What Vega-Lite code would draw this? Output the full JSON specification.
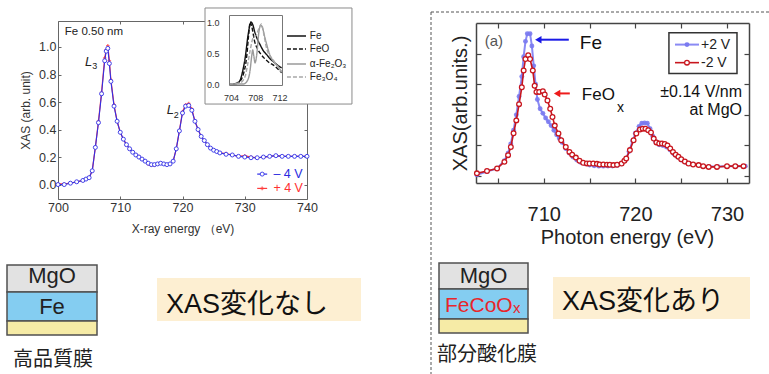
{
"$schema": "https://vega.github.io/schema/vega-lite/v6.json",
"width": 769, "height": 374,
"autosize": {"type": "none"},
"padding": 0,
"background": "white",
"config": {
  "view": {"stroke": null},
  "font": "Liberation Sans",
  "axis": {"grid": false, "labelFont": "Liberation Sans", "titleFont": "Liberation Sans", "titleFontWeight": "normal"}
},
"datasets": {
  "lneg": [{"E":700,"I":0.0},{"E":701,"I":0.0},{"E":702,"I":0.01},{"E":703,"I":0.02},{"E":704,"I":0.03},{"E":704.5,"I":0.04},{"E":705,"I":0.05},{"E":705.5,"I":0.1},{"E":706,"I":0.27},{"E":706.5,"I":0.45},{"E":707,"I":0.66},{"E":707.5,"I":0.9},{"E":707.75,"I":0.97},{"E":708,"I":0.99},{"E":708.25,"I":0.88},{"E":708.5,"I":0.75},{"E":709,"I":0.57},{"E":709.5,"I":0.46},{"E":710,"I":0.38},{"E":710.5,"I":0.33},{"E":711,"I":0.29},{"E":711.5,"I":0.26},{"E":712,"I":0.235},{"E":712.5,"I":0.215},{"E":713,"I":0.2},{"E":713.5,"I":0.185},{"E":714,"I":0.17},{"E":714.5,"I":0.155},{"E":715,"I":0.145},{"E":715.5,"I":0.145},{"E":716,"I":0.15},{"E":716.5,"I":0.155},{"E":717,"I":0.15},{"E":717.5,"I":0.145},{"E":718,"I":0.15},{"E":718.5,"I":0.17},{"E":719,"I":0.26},{"E":719.5,"I":0.39},{"E":720,"I":0.52},{"E":720.5,"I":0.57},{"E":721,"I":0.575},{"E":721.5,"I":0.54},{"E":722,"I":0.46},{"E":722.5,"I":0.4},{"E":723,"I":0.35},{"E":723.5,"I":0.32},{"E":724,"I":0.29},{"E":724.5,"I":0.265},{"E":725,"I":0.25},{"E":725.5,"I":0.24},{"E":726,"I":0.23},{"E":727,"I":0.22},{"E":728,"I":0.215},{"E":729,"I":0.205},{"E":730,"I":0.2},{"E":731,"I":0.195},{"E":732,"I":0.195},{"E":733,"I":0.2},{"E":734,"I":0.205},{"E":735,"I":0.21},{"E":736,"I":0.205},{"E":737,"I":0.205},{"E":738,"I":0.205},{"E":739,"I":0.205},{"E":740,"I":0.205}],
  "lpos": [{"E":700,"I":0.005},{"E":701,"I":0.005},{"E":702,"I":0.01},{"E":703,"I":0.02},{"E":704,"I":0.03},{"E":704.5,"I":0.04},{"E":705,"I":0.05},{"E":705.5,"I":0.1},{"E":706,"I":0.27},{"E":706.5,"I":0.46},{"E":707,"I":0.67},{"E":707.5,"I":0.92},{"E":707.75,"I":0.98},{"E":708,"I":1.01},{"E":708.25,"I":0.9},{"E":708.5,"I":0.76},{"E":709,"I":0.58},{"E":709.5,"I":0.46},{"E":710,"I":0.38},{"E":710.5,"I":0.33},{"E":711,"I":0.29},{"E":711.5,"I":0.26},{"E":712,"I":0.235},{"E":712.5,"I":0.215},{"E":713,"I":0.205},{"E":713.5,"I":0.185},{"E":714,"I":0.17},{"E":714.5,"I":0.15},{"E":715,"I":0.14},{"E":715.5,"I":0.14},{"E":716,"I":0.15},{"E":716.5,"I":0.155},{"E":717,"I":0.15},{"E":717.5,"I":0.145},{"E":718,"I":0.15},{"E":718.5,"I":0.17},{"E":719,"I":0.26},{"E":719.5,"I":0.39},{"E":720,"I":0.53},{"E":720.5,"I":0.58},{"E":721,"I":0.59},{"E":721.5,"I":0.55},{"E":722,"I":0.46},{"E":722.5,"I":0.4},{"E":723,"I":0.35},{"E":723.5,"I":0.32},{"E":724,"I":0.29},{"E":724.5,"I":0.265},{"E":725,"I":0.25},{"E":725.5,"I":0.24},{"E":726,"I":0.23},{"E":727,"I":0.225},{"E":728,"I":0.215},{"E":729,"I":0.205},{"E":730,"I":0.21},{"E":731,"I":0.2},{"E":732,"I":0.195},{"E":733,"I":0.2},{"E":734,"I":0.205},{"E":735,"I":0.21},{"E":736,"I":0.205},{"E":737,"I":0.205},{"E":738,"I":0.205},{"E":739,"I":0.205},{"E":740,"I":0.205}],
  "rneg": [{"E":702.7,"I":0.018},{"E":703.8,"I":0.033},{"E":704.9,"I":0.05},{"E":705.7,"I":0.093},{"E":706.1,"I":0.137},{"E":706.4,"I":0.19},{"E":706.7,"I":0.28},{"E":707.0,"I":0.364},{"E":707.3,"I":0.47},{"E":707.6,"I":0.58},{"E":707.8,"I":0.69},{"E":708.0,"I":0.765},{"E":708.3,"I":0.79},{"E":708.5,"I":0.765},{"E":708.8,"I":0.69},{"E":709.0,"I":0.59},{"E":709.2,"I":0.55},{"E":709.5,"I":0.55},{"E":709.9,"I":0.555},{"E":710.1,"I":0.533},{"E":710.4,"I":0.494},{"E":710.7,"I":0.44},{"E":710.95,"I":0.386},{"E":711.2,"I":0.33},{"E":711.6,"I":0.278},{"E":711.9,"I":0.234},{"E":712.4,"I":0.19},{"E":712.8,"I":0.158},{"E":713.1,"I":0.14},{"E":713.5,"I":0.121},{"E":713.9,"I":0.1},{"E":714.3,"I":0.087},{"E":714.7,"I":0.083},{"E":715.0,"I":0.082},{"E":715.4,"I":0.082},{"E":715.8,"I":0.08},{"E":716.1,"I":0.076},{"E":716.5,"I":0.076},{"E":716.9,"I":0.075},{"E":717.2,"I":0.074},{"E":717.6,"I":0.072},{"E":718.0,"I":0.074},{"E":718.5,"I":0.082},{"E":718.8,"I":0.1},{"E":719.0,"I":0.115},{"E":719.4,"I":0.17},{"E":719.8,"I":0.234},{"E":720.1,"I":0.278},{"E":720.5,"I":0.304},{"E":720.8,"I":0.31},{"E":721.1,"I":0.31},{"E":721.4,"I":0.3},{"E":721.7,"I":0.285},{"E":722.0,"I":0.245},{"E":722.3,"I":0.22},{"E":722.6,"I":0.213},{"E":722.9,"I":0.213},{"E":723.2,"I":0.21},{"E":723.5,"I":0.2},{"E":723.8,"I":0.18},{"E":724.1,"I":0.158},{"E":724.4,"I":0.14},{"E":724.7,"I":0.126},{"E":725.0,"I":0.11},{"E":725.4,"I":0.095},{"E":725.8,"I":0.082},{"E":726.3,"I":0.076},{"E":726.9,"I":0.072},{"E":727.4,"I":0.065},{"E":728.0,"I":0.06},{"E":728.9,"I":0.06},{"E":730.0,"I":0.065},{"E":730.9,"I":0.065},{"E":731.8,"I":0.065}],
  "rpos": [{"E":702.7,"I":0.008},{"E":703.8,"I":0.03},{"E":704.9,"I":0.05},{"E":705.7,"I":0.1},{"E":706.1,"I":0.15},{"E":706.4,"I":0.21},{"E":706.7,"I":0.3},{"E":707.0,"I":0.4},{"E":707.3,"I":0.52},{"E":707.6,"I":0.65},{"E":707.8,"I":0.78},{"E":708.0,"I":0.88},{"E":708.2,"I":0.93},{"E":708.5,"I":0.93},{"E":708.7,"I":0.85},{"E":708.9,"I":0.72},{"E":709.1,"I":0.6},{"E":709.3,"I":0.5},{"E":709.6,"I":0.44},{"E":709.9,"I":0.41},{"E":710.2,"I":0.38},{"E":710.5,"I":0.355},{"E":710.8,"I":0.33},{"E":711.1,"I":0.3},{"E":711.4,"I":0.27},{"E":711.7,"I":0.245},{"E":712.0,"I":0.22},{"E":712.4,"I":0.18},{"E":712.8,"I":0.15},{"E":713.2,"I":0.125},{"E":713.6,"I":0.105},{"E":714.0,"I":0.09},{"E":714.5,"I":0.08},{"E":715.0,"I":0.072},{"E":715.5,"I":0.068},{"E":716.0,"I":0.065},{"E":716.5,"I":0.065},{"E":717.0,"I":0.066},{"E":717.5,"I":0.066},{"E":718.0,"I":0.07},{"E":718.5,"I":0.08},{"E":718.9,"I":0.105},{"E":719.3,"I":0.16},{"E":719.7,"I":0.23},{"E":720.0,"I":0.28},{"E":720.4,"I":0.325},{"E":720.7,"I":0.345},{"E":721.0,"I":0.347},{"E":721.3,"I":0.345},{"E":721.6,"I":0.31},{"E":721.9,"I":0.26},{"E":722.2,"I":0.225},{"E":722.6,"I":0.205},{"E":723.0,"I":0.2},{"E":723.4,"I":0.19},{"E":723.8,"I":0.17},{"E":724.2,"I":0.145},{"E":724.6,"I":0.125},{"E":725.0,"I":0.105},{"E":725.5,"I":0.09},{"E":726.0,"I":0.08},{"E":727.0,"I":0.07},{"E":728.0,"I":0.062},{"E":729.0,"I":0.062},{"E":730.0,"I":0.065},{"E":731.0,"I":0.065},{"E":732.0,"I":0.065}],
  "inset": [
    {"s":"Fe","E":703.7,"I":0},{"s":"Fe","E":704.5,"I":0},{"s":"Fe","E":705,"I":0.01},{"s":"Fe","E":705.5,"I":0.065},{"s":"Fe","E":706,"I":0.25},{"s":"Fe","E":706.3,"I":0.41},{"s":"Fe","E":706.8,"I":0.79},{"s":"Fe","E":707.1,"I":0.95},{"s":"Fe","E":707.3,"I":1.0},{"s":"Fe","E":707.6,"I":0.95},{"s":"Fe","E":707.9,"I":0.84},{"s":"Fe","E":708.3,"I":0.73},{"s":"Fe","E":708.8,"I":0.63},{"s":"Fe","E":709.3,"I":0.54},{"s":"Fe","E":709.9,"I":0.47},{"s":"Fe","E":710.5,"I":0.4},{"s":"Fe","E":711.0,"I":0.36},{"s":"Fe","E":711.7,"I":0.3},{"s":"Fe","E":712.35,"I":0.26},
    {"s":"FeO","E":703.7,"I":0},{"s":"FeO","E":704.5,"I":0},{"s":"FeO","E":705,"I":0.02},{"s":"FeO","E":705.5,"I":0.05},{"s":"FeO","E":706,"I":0.15},{"s":"FeO","E":706.6,"I":0.47},{"s":"FeO","E":706.9,"I":0.8},{"s":"FeO","E":707.15,"I":1.0},{"s":"FeO","E":707.4,"I":0.93},{"s":"FeO","E":707.9,"I":0.68},{"s":"FeO","E":708.4,"I":0.56},{"s":"FeO","E":709,"I":0.47},{"s":"FeO","E":710.1,"I":0.36},{"s":"FeO","E":711.2,"I":0.29},{"s":"FeO","E":712.35,"I":0.18},
    {"s":"a","E":703.7,"I":0},{"s":"a","E":706,"I":0},{"s":"a","E":706.6,"I":0.04},{"s":"a","E":707.1,"I":0.2},{"s":"a","E":707.4,"I":0.45},{"s":"a","E":707.56,"I":0.55},{"s":"a","E":707.75,"I":0.45},{"s":"a","E":707.95,"I":0.34},{"s":"a","E":708.2,"I":0.45},{"s":"a","E":708.6,"I":0.85},{"s":"a","E":708.9,"I":0.95},{"s":"a","E":709.2,"I":0.9},{"s":"a","E":709.6,"I":0.74},{"s":"a","E":710.4,"I":0.47},{"s":"a","E":711.5,"I":0.31},{"s":"a","E":712.35,"I":0.2},
    {"s":"Fe3O4","E":703.7,"I":0},{"s":"Fe3O4","E":705.5,"I":0.02},{"s":"Fe3O4","E":706.3,"I":0.12},{"s":"Fe3O4","E":706.7,"I":0.3},{"s":"Fe3O4","E":707.1,"I":0.52},{"s":"Fe3O4","E":707.7,"I":0.76},{"s":"Fe3O4","E":708.1,"I":0.78},{"s":"Fe3O4","E":708.6,"I":0.9},{"s":"Fe3O4","E":709.0,"I":0.97},{"s":"Fe3O4","E":709.4,"I":0.8},{"s":"Fe3O4","E":709.9,"I":0.56},{"s":"Fe3O4","E":711.0,"I":0.38},{"s":"Fe3O4","E":712.35,"I":0.19}
  ]
},
"layer": [
  {
    "encoding": {
      "x": {"field": "x", "type": "quantitative", "scale": {"domain": [0, 769], "range": [0, 769], "nice": false, "zero": false}, "axis": null},
      "y": {"field": "y", "type": "quantitative", "scale": {"domain": [0, 374], "range": [0, 374], "nice": false, "zero": false}, "axis": null}
    },
    "layer": [
      {"data": {"values": [{"x":431,"x2":431,"y":12,"y2":374},{"x":431,"x2":769,"y":12,"y2":12}]},
       "mark": {"type": "rule", "color": "#555555", "strokeWidth": 1, "strokeDash": [3, 2]},
       "encoding": {"x2": {"field": "x2"}, "y2": {"field": "y2"}}},
      {"data": {"values": [{"x":157,"x2":361,"y":278,"y2":321},{"x":553,"x2":750,"y":277,"y2":319}]},
       "mark": {"type": "rect", "fill": "#fdefd2"},
       "encoding": {"x2": {"field": "x2"}, "y2": {"field": "y2"}}},
      {"data": {"values": [{"x":7,"x2":97,"y":265,"y2":292,"k":"MgO"},{"x":7,"x2":97,"y":292,"y2":321,"k":"Fe"},{"x":7,"x2":97,"y":321,"y2":335,"k":"sub"},{"x":439,"x2":528,"y":263,"y2":289,"k":"MgO"},{"x":439,"x2":528,"y":289,"y2":319,"k":"Fe"},{"x":439,"x2":528,"y":319,"y2":333,"k":"sub"}]},
       "mark": {"type": "rect", "stroke": "#505050", "strokeWidth": 1.5},
       "encoding": {"x2": {"field": "x2"}, "y2": {"field": "y2"},
         "fill": {"field": "k", "type": "nominal", "scale": {"domain": ["MgO", "Fe", "sub"], "range": ["#e2e2e2", "#84cdf1", "#f6eba6"]}, "legend": null}}},
      {"data": {"values": [{"x":52,"y":283,"t":"MgO"},{"x":52,"y":314,"t":"Fe"},{"x":483.5,"y":283,"t":"MgO"}]},
       "mark": {"type": "text", "align": "center", "baseline": "alphabetic", "fontSize": 22, "color": "#222222", "font": "Liberation Sans"},
       "encoding": {"text": {"field": "t"}}},
      {"data": {"values": [{"x":445,"y":312,"t":"FeCoO"}]},
       "mark": {"type": "text", "align": "left", "baseline": "alphabetic", "fontSize": 21, "color": "#e8262b", "font": "Liberation Sans"},
       "encoding": {"text": {"field": "t"}}},
      {"data": {"values": [{"x":513,"y":313,"t":"x"}]},
       "mark": {"type": "text", "align": "left", "baseline": "alphabetic", "fontSize": 15, "color": "#e8262b", "font": "Liberation Sans"},
       "encoding": {"text": {"field": "t"}}},
      {"data": {"values": [{"x":13,"y":360,"t":"高品質膜"},{"x":437,"y":355,"t":"部分酸化膜"}]},
       "mark": {"type": "text", "align": "left", "baseline": "middle", "fontSize": 20, "color": "#222222", "font": "Noto Sans CJK JP"},
       "encoding": {"text": {"field": "t"}}},
      {"data": {"values": [{"x":166,"y":313,"t":"XAS変化なし"},{"x":562,"y":309.5,"t":"XAS変化あり"}]},
       "mark": {"type": "text", "align": "left", "baseline": "alphabetic", "fontSize": 27, "color": "#111111", "font": "Liberation Sans, Noto Sans CJK JP"},
       "encoding": {"text": {"field": "t"}}}
    ]
  },
  {
    "encoding": {
      "x": {"field": "E", "type": "quantitative", "scale": {"domain": [700, 740], "range": [58, 307], "nice": false, "zero": false},
        "axis": {"orient": "bottom", "offset": -175, "values": [700, 710, 720, 730, 740], "title": "X-ray energy （eV)", "titleFontSize": 12, "titleColor": "#333333", "titlePadding": 10, "labelFontSize": 12.5, "labelColor": "#333333", "labelPadding": 5, "labelFlush": false, "tickSize": -3, "tickColor": "#666666", "domainColor": "#666666"}},
      "y": {"field": "I", "type": "quantitative", "scale": {"domain": [-0.105, 1.189], "range": [199, 21], "nice": false, "zero": false},
        "axis": {"orient": "left", "offset": -58, "values": [0, 0.2, 0.4, 0.6, 0.8, 1.0], "format": ".1f", "title": "XAS (arb. unit)", "titleFontSize": 12, "titleColor": "#333333", "titlePadding": 6, "labelFontSize": 12.5, "labelColor": "#333333", "labelPadding": 5, "tickSize": -3, "tickColor": "#666666", "domainColor": "#666666"}}
    },
    "layer": [
      {"data": {"name": "lpos"}, "mark": {"type": "line", "color": "#ff3b3b", "strokeWidth": 1.2}},
      {"data": {"name": "lpos"}, "mark": {"type": "point", "shape": "cross", "filled": true, "color": "#ff3b3b", "size": 12}},
      {"data": {"name": "lneg"}, "mark": {"type": "line", "color": "#3030e8", "strokeWidth": 1.1}},
      {"data": {"name": "lneg"}, "mark": {"type": "point", "shape": "circle", "filled": true, "fill": "white", "stroke": "#3030e8", "size": 16, "strokeWidth": 0.9, "opacity": 1}},
      {"data": {"values": [{"E":701.1,"I":1.109,"t":"Fe 0.50 nm"}]},
       "mark": {"type": "text", "align": "left", "baseline": "middle", "fontSize": 11.5, "color": "#222222"},
       "encoding": {"text": {"field": "t"}}},
      {"data": {"values": [{"E":704.34,"I":0.893,"t":"L"},{"E":717.46,"I":0.542,"t":"L"}]},
       "mark": {"type": "text", "align": "left", "baseline": "middle", "fontSize": 13, "fontStyle": "italic", "color": "#222222"},
       "encoding": {"text": {"field": "t"}}},
      {"data": {"values": [{"E":705.5,"I":0.862,"t":"3"},{"E":718.6,"I":0.507,"t":"2"}]},
       "mark": {"type": "text", "align": "left", "baseline": "middle", "fontSize": 9, "color": "#222222"},
       "encoding": {"text": {"field": "t"}}},
      {"data": {"values": [{"E":732.0,"E2":733.6,"I":0.076}]},
       "mark": {"type": "rule", "color": "#3030e8", "strokeWidth": 1.2},
       "encoding": {"x2": {"field": "E2"}}},
      {"data": {"values": [{"E":732.8,"I":0.076}]},
       "mark": {"type": "point", "shape": "circle", "filled": true, "fill": "white", "stroke": "#3030e8", "size": 16, "strokeWidth": 0.9, "opacity": 1}},
      {"data": {"values": [{"E":732.0,"E2":733.6,"I":-0.028}]},
       "mark": {"type": "rule", "color": "#ff3b3b", "strokeWidth": 1.2},
       "encoding": {"x2": {"field": "E2"}}},
      {"data": {"values": [{"E":732.8,"I":-0.028}]},
       "mark": {"type": "point", "shape": "cross", "filled": true, "color": "#ff3b3b", "size": 14}},
      {"data": {"values": [{"E":734.6,"I":0.076,"t":"– 4 V"}]},
       "mark": {"type": "text", "align": "left", "baseline": "middle", "fontSize": 12.5, "color": "#2a2ae0"},
       "encoding": {"text": {"field": "t"}}},
      {"data": {"values": [{"E":734.6,"I":-0.028,"t":"+ 4 V"}]},
       "mark": {"type": "text", "align": "left", "baseline": "middle", "fontSize": 12.5, "color": "#ff3030"},
       "encoding": {"text": {"field": "t"}}}
    ]
  },
  {
    "data": {"name": "lneg"},
    "mark": {"type": "point", "opacity": 0},
    "encoding": {
      "x": {"field": "E", "type": "quantitative", "scale": {"domain": [700, 740], "range": [58, 307], "nice": false, "zero": false},
        "axis": {"orient": "top", "offset": -21, "values": [700, 710, 720, 730, 740], "labels": false, "title": null, "tickSize": -3, "tickColor": "#666666", "domainColor": "#666666"}},
      "y": {"field": "I", "type": "quantitative", "scale": {"domain": [-0.105, 1.189], "range": [199, 21], "nice": false, "zero": false},
        "axis": {"orient": "right", "offset": -462, "values": [0, 0.2, 0.4, 0.6, 0.8, 1.0], "labels": false, "title": null, "tickSize": -3, "tickColor": "#666666", "domainColor": "#666666"}}
    }
  },
  {
    "encoding": {
      "x": {"field": "E", "type": "quantitative", "scale": {"domain": [703.65, 712.4], "range": [229, 282], "nice": false, "zero": false},
        "axis": {"orient": "bottom", "offset": -289, "values": [704, 708, 712], "title": null, "labelFontSize": 9, "labelColor": "#333333", "labelPadding": 8, "labelFlush": false, "tickSize": 0, "domainColor": "#777777", "zindex": 1}},
      "y": {"field": "I", "type": "quantitative", "scale": {"domain": [-0.016, 1.113], "range": [85, 15], "nice": false, "zero": false},
        "axis": {"orient": "left", "offset": -229, "values": [0, 0.5, 1], "title": null, "labelFontSize": 9, "labelColor": "#333333", "labelPadding": 10, "tickSize": 0, "domainColor": "#777777", "zindex": 1}}
    },
    "layer": [
      {"data": {"values": [{"E":699.69,"E2":723.95,"I":1.226,"I2":-0.323}]},
       "mark": {"type": "rect", "fill": "white", "stroke": "#8a8a8a", "strokeWidth": 1},
       "encoding": {"x2": {"field": "E2"}, "y2": {"field": "I2"}}},
      {"data": {"name": "inset"},
       "mark": {"type": "line", "interpolate": "monotone", "strokeWidth": 1.4},
       "encoding": {
         "color": {"field": "s", "type": "nominal", "scale": {"domain": ["Fe", "FeO", "a", "Fe3O4"], "range": ["#111111", "#111111", "#9a9a9a", "#a8a8a8"]}, "legend": null},
         "strokeDash": {"field": "s", "type": "nominal", "scale": {"domain": ["Fe", "FeO", "a", "Fe3O4"], "range": [[1, 0], [4, 2], [1, 0], [4, 2]]}, "legend": null}}},
      {"data": {"values": [{"E":713.22,"E2":716.36,"I":0.774,"s":"Fe"},{"E":713.22,"E2":716.36,"I":0.565,"s":"FeO"},{"E":713.22,"E2":716.36,"I":0.323,"s":"a"},{"E":713.22,"E2":716.36,"I":0.113,"s":"Fe3O4"}]},
       "mark": {"type": "rule", "strokeWidth": 1.4},
       "encoding": {"x2": {"field": "E2"},
         "color": {"field": "s", "type": "nominal", "scale": {"domain": ["Fe", "FeO", "a", "Fe3O4"], "range": ["#111111", "#111111", "#9a9a9a", "#a8a8a8"]}, "legend": null},
         "strokeDash": {"field": "s", "type": "nominal", "scale": {"domain": ["Fe", "FeO", "a", "Fe3O4"], "range": [[1, 0], [4, 2], [1, 0], [4, 2]]}, "legend": null}}},
      {"data": {"values": [{"E":717.0,"I":0.774,"t":"Fe"},{"E":717.0,"I":0.565,"t":"FeO"},{"E":717.0,"I":0.323,"t":"α-Fe₂O₃"},{"E":717.0,"I":0.113,"t":"Fe₃O₄"}]},
       "mark": {"type": "text", "align": "left", "baseline": "middle", "fontSize": 10, "color": "#222222"},
       "encoding": {"text": {"field": "t"}}}
    ]
  },
  {
    "data": {"name": "inset"},
    "mark": {"type": "point", "opacity": 0},
    "encoding": {
      "x": {"field": "E", "type": "quantitative", "scale": {"domain": [703.65, 712.4], "range": [229, 282], "nice": false, "zero": false},
        "axis": {"orient": "top", "offset": -15, "values": [704, 708, 712], "labels": false, "ticks": false, "title": null, "domainColor": "#777777", "zindex": 1}},
      "y": {"field": "I", "type": "quantitative", "scale": {"domain": [-0.016, 1.113], "range": [85, 15], "nice": false, "zero": false},
        "axis": {"orient": "right", "offset": -487, "values": [0, 0.5, 1], "labels": false, "ticks": false, "title": null, "domainColor": "#777777", "zindex": 1}}
    }
  },
  {
    "encoding": {
      "x": {"field": "E", "type": "quantitative", "scale": {"domain": [702.6, 732.4], "range": [476, 749], "nice": false, "zero": false},
        "axis": {"orient": "bottom", "offset": -191, "values": [705, 710, 715, 720, 725, 730], "labelExpr": "datum.value % 10 == 0 ? datum.label : ''", "title": "Photon energy (eV)", "titleFontSize": 20, "titleColor": "#222222", "titleX": 627, "titlePadding": 3, "labelFontSize": 20, "labelColor": "#222222", "labelPadding": 26, "labelFlush": false, "tickSize": -5, "tickWidth": 1.2, "tickColor": "#444444", "domainColor": "#444444", "domainWidth": 1.5}},
      "y": {"field": "I", "type": "quantitative", "scale": {"domain": [-0.045, 1.0], "range": [183, 23], "nice": false, "zero": false},
        "axis": {"orient": "left", "offset": -476, "values": [0, 0.2, 0.4, 0.6, 0.8], "labels": false, "title": "XAS(arb.units.)", "titleFontSize": 20, "titleColor": "#222222", "titlePadding": 5, "tickSize": -5, "tickWidth": 1.2, "tickColor": "#444444", "domainColor": "#444444", "domainWidth": 1.5}}
    },
    "layer": [
      {"data": {"name": "rpos"}, "mark": {"type": "line", "color": "#8a8af4", "strokeWidth": 2}},
      {"data": {"name": "rpos"}, "mark": {"type": "point", "shape": "circle", "filled": true, "color": "#7a7af0", "size": 24, "opacity": 0.9}},
      {"data": {"name": "rneg"}, "mark": {"type": "line", "color": "#c8161e", "strokeWidth": 1.6}},
      {"data": {"name": "rneg"}, "mark": {"type": "point", "shape": "circle", "filled": true, "fill": "white", "stroke": "#c8161e", "strokeWidth": 1.3, "size": 22, "opacity": 1}},
      {"data": {"values": [{"E":712.73,"E2":709.6,"I":0.891}]},
       "mark": {"type": "rule", "color": "#1a1ae6", "strokeWidth": 2},
       "encoding": {"x2": {"field": "E2"}}},
      {"data": {"values": [{"E":709.4,"I":0.891}]},
       "mark": {"type": "point", "shape": "triangle-left", "filled": true, "color": "#1a1ae6", "size": 55, "opacity": 1}},
      {"data": {"values": [{"E":712.84,"E2":711.7,"I":0.54}]},
       "mark": {"type": "rule", "color": "#ee1c1c", "strokeWidth": 2},
       "encoding": {"x2": {"field": "E2"}}},
      {"data": {"values": [{"E":711.45,"I":0.54}]},
       "mark": {"type": "point", "shape": "triangle-left", "filled": true, "color": "#ee1c1c", "size": 55, "opacity": 1}},
      {"data": {"values": [{"E":713.93,"I":0.872,"t":"Fe"}]},
       "mark": {"type": "text", "align": "left", "baseline": "middle", "fontSize": 19, "color": "#111111"},
       "encoding": {"text": {"field": "t"}}},
      {"data": {"values": [{"E":714.15,"I":0.527,"t":"FeO"}]},
       "mark": {"type": "text", "align": "left", "baseline": "middle", "fontSize": 17, "color": "#111111"},
       "encoding": {"text": {"field": "t"}}},
      {"data": {"values": [{"E":718.0,"I":0.445,"t":"x"}]},
       "mark": {"type": "text", "align": "left", "baseline": "middle", "fontSize": 14, "color": "#111111"},
       "encoding": {"text": {"field": "t"}}},
      {"data": {"values": [{"E":731.64,"I":0.548,"t":"±0.14 V/nm"},{"E":731.64,"I":0.43,"t":"at MgO"}]},
       "mark": {"type": "text", "align": "right", "baseline": "middle", "fontSize": 16, "color": "#111111"},
       "encoding": {"text": {"field": "t"}}},
      {"data": {"values": [{"E":703.55,"I":0.885,"t":"(a)"}]},
       "mark": {"type": "text", "align": "left", "baseline": "middle", "fontSize": 15, "color": "#555555"},
       "encoding": {"text": {"field": "t"}}},
      {"data": {"values": [{"E":723.66,"E2":731.09,"I":0.937,"I2":0.67}]},
       "mark": {"type": "rect", "fill": "white", "stroke": "#333333", "strokeWidth": 1.5},
       "encoding": {"x2": {"field": "E2"}, "y2": {"field": "I2"}}},
      {"data": {"values": [{"E":724.32,"E2":726.94,"I":0.859}]},
       "mark": {"type": "rule", "color": "#8a8af4", "strokeWidth": 2},
       "encoding": {"x2": {"field": "E2"}}},
      {"data": {"values": [{"E":725.63,"I":0.859}]},
       "mark": {"type": "point", "shape": "circle", "filled": true, "color": "#7a7af0", "size": 24, "opacity": 1}},
      {"data": {"values": [{"E":724.32,"E2":726.94,"I":0.741}]},
       "mark": {"type": "rule", "color": "#c8161e", "strokeWidth": 1.6},
       "encoding": {"x2": {"field": "E2"}}},
      {"data": {"values": [{"E":725.63,"I":0.741}]},
       "mark": {"type": "point", "shape": "circle", "filled": true, "fill": "white", "stroke": "#c8161e", "strokeWidth": 1.3, "size": 22, "opacity": 1}},
      {"data": {"values": [{"E":727.16,"I":0.859,"t":"+2 V"},{"E":727.16,"I":0.741,"t":"-2 V"}]},
       "mark": {"type": "text", "align": "left", "baseline": "middle", "fontSize": 14, "color": "#222222"},
       "encoding": {"text": {"field": "t"}}}
    ]
  },
  {
    "data": {"name": "rneg"},
    "mark": {"type": "point", "opacity": 0},
    "encoding": {
      "x": {"field": "E", "type": "quantitative", "scale": {"domain": [702.6, 732.4], "range": [476, 749], "nice": false, "zero": false},
        "axis": {"orient": "top", "offset": -23, "values": [705, 710, 715, 720, 725, 730], "labels": false, "title": null, "tickSize": -5, "tickWidth": 1.2, "tickColor": "#444444", "domainColor": "#444444", "domainWidth": 1.5}},
      "y": {"field": "I", "type": "quantitative", "scale": {"domain": [-0.045, 1.0], "range": [183, 23], "nice": false, "zero": false},
        "axis": {"orient": "right", "offset": -20, "values": [0, 0.2, 0.4, 0.6, 0.8], "labels": false, "title": null, "tickSize": -5, "tickWidth": 1.2, "tickColor": "#444444", "domainColor": "#444444", "domainWidth": 1.5}}
    }
  }
],
"resolve": {"scale": {"x": "independent", "y": "independent"}, "axis": {"x": "independent", "y": "independent"}}
}
